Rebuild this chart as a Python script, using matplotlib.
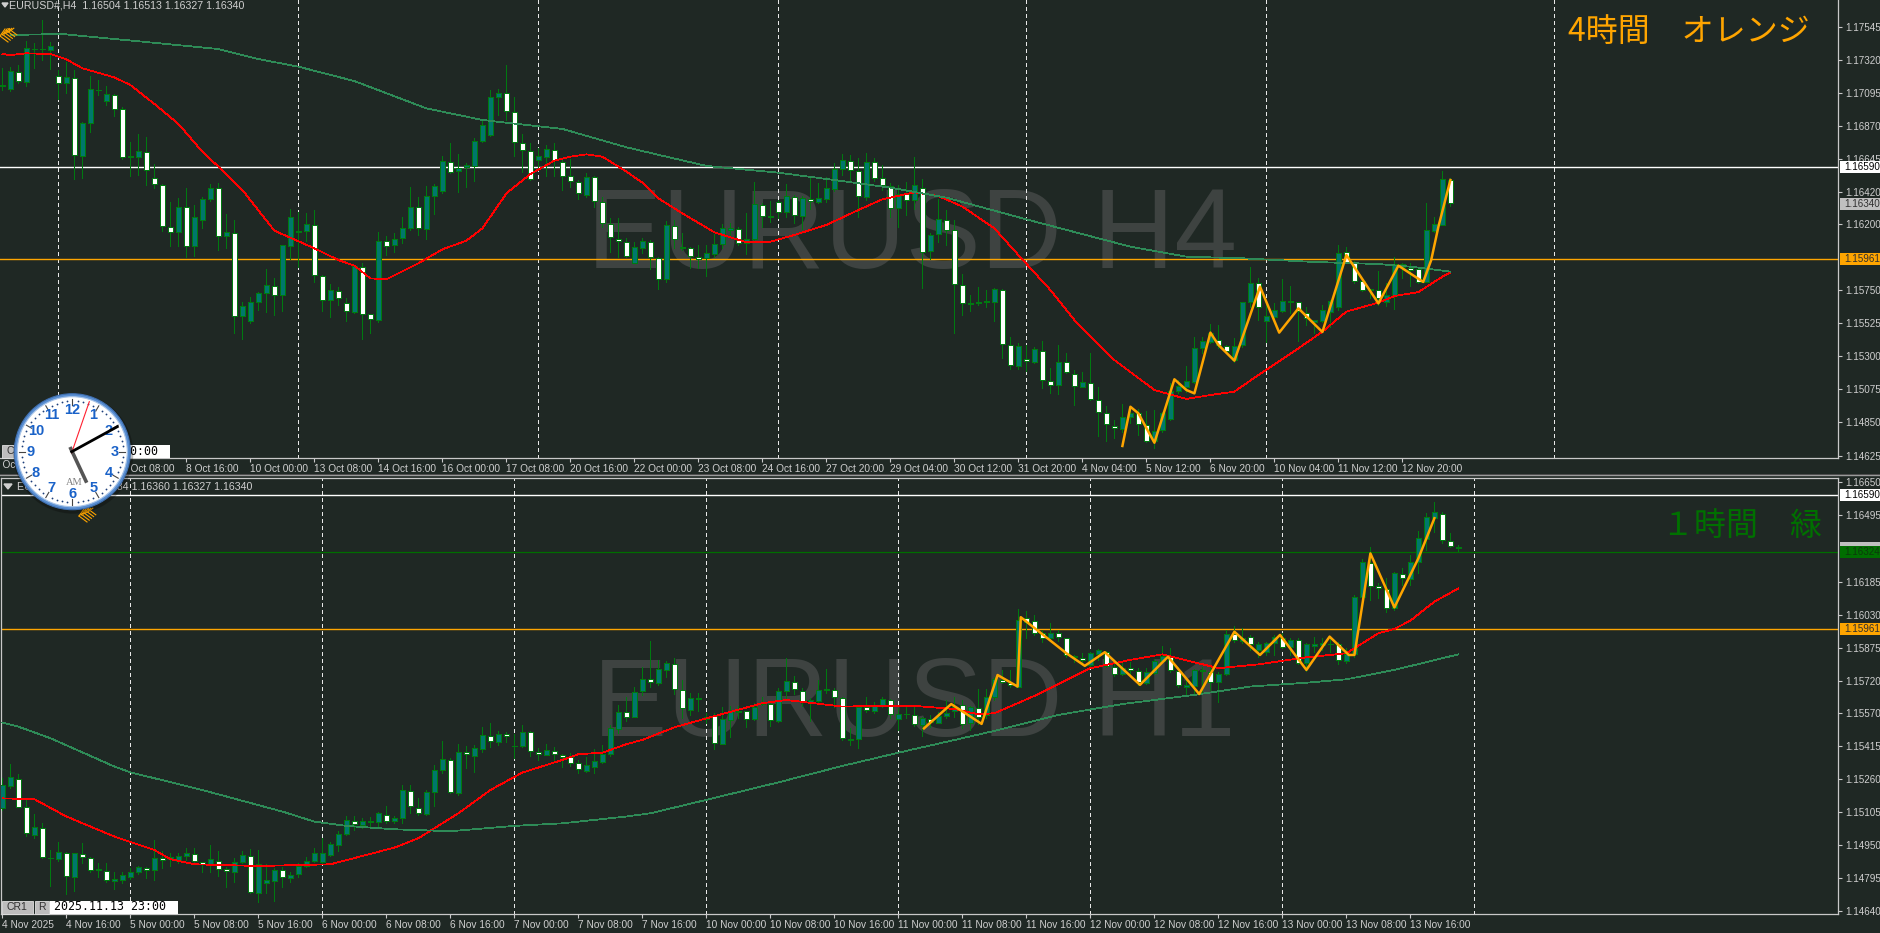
import numpy as np
import matplotlib
matplotlib.use("Agg")
import matplotlib.pyplot as plt
from matplotlib.patches import Circle, Rectangle, Polygon

W, H = 1881, 933
BG = "#1f2824"
WICK = "#007a10"
TEAL = "#00786c"
GRID = "#e8e8e8"
TXT = "#cfcfcf"
ORANGE = "#ffa500"
MA_RED = "#ff0000"
MA_GREEN = "#2e8b57"
LABEL_FONT = "Liberation Sans"
CJK = ["Noto Sans CJK JP", "DejaVu Sans"]

# ---- H4 candles, prices in points (1.16590 = 116590)
h4_high = [
    117262,117273,117284,117446,117432,117591,117439,117250,117307,117250,
    116898,117209,117182,117141,117087,116996,116762,116812,116792,116610,
    116474,116349,116376,116444,116331,116388,116474,116481,116270,116229,
    115673,115707,115741,115893,115832,116059,116301,116286,116274,116297,
    115854,115793,115770,115700,115915,115934,115582,116149,116120,116138,
    116252,116451,116388,116460,116474,116665,116751,116678,116615,116785,
    116910,117114,117121,117282,117069,116812,116751,116717,116740,116751,
    116642,116642,116501,116547,116528,116383,116240,116240,116104,116081,
    116104,116093,115979,116222,116229,116138,116047,116059,116059,116131,
    116202,116211,116179,116274,116485,116342,116358,116365,116474,116397,
    116392,116519,116478,116524,116615,116678,116671,116649,116683,116649,
    116603,116478,116467,116490,116656,116508,116138,116370,116297,116229,
    115861,115718,115770,115752,115763,115757,115434,115389,115378,115366,
    115407,115219,115378,115321,115207,115196,115325,115094,114962,114867,
    114976,114946,114939,114930,114935,114924,115117,115139,115235,115434,
    115434,115521,115514,115378,115423,115673,115906,115832,115673,115661,
    115825,115779,115673,115639,115548,115650,115684,116059,116047,115950,
    115832,115757,115884,115798,115979,115938,115934,115900,116342,116252,
    116562,116513,
]
h4_low = [
    117114,117110,117160,117141,117262,117318,117257,117051,117091,116508,
    116517,116828,117080,117012,116939,116647,116528,116535,116467,116444,
    116154,116054,116054,115979,115984,116177,116360,116025,116038,115462,
    115416,115525,115616,115605,115582,115611,115961,115911,116086,115809,
    115609,115570,115650,115541,115598,115416,115457,115536,115990,116013,
    116070,116161,116127,116097,116267,116415,116551,116422,116456,116497,
    116762,116803,116944,116910,116667,116558,116501,116569,116528,116528,
    116433,116451,116372,116388,116315,116183,116013,115979,115975,115934,
    116002,115893,115761,115809,116036,116025,115900,115900,115847,115979,
    116036,116115,116059,115997,116081,116183,116217,116240,116252,116206,
    116170,116301,116342,116349,116429,116533,116501,116252,116365,116494,
    116433,116252,116183,116263,116301,115768,115961,116081,116059,115462,
    115582,115609,115650,115639,115543,115291,115212,115212,115203,115253,
    115087,115048,115044,115189,114969,115094,115003,114758,114726,114742,
    114785,114844,114765,114719,114678,114787,114867,115048,115060,115117,
    115321,115389,115355,115321,115264,115366,115639,115548,115400,115548,
    115605,115593,115407,115514,115462,115536,115502,115616,115934,115802,
    115745,115695,115650,115643,115625,115836,115779,115798,115807,116149,
    116192,116326,
]
h4_body_top = [
    117146,117241,117239,117398,117396,117396,117411,117212,117200,117198,
    116887,117119,117116,117085,117082,116982,116662,116696,116694,116517,
    116469,116183,116320,116320,116252,116370,116449,116449,116145,116142,
    115643,115668,115729,115784,115782,116056,116247,116152,116199,116197,
    115850,115750,115748,115666,115915,115911,115586,116088,116088,116097,
    116177,116320,116317,116394,116458,116628,116626,116585,116601,116765,
    116873,117064,117096,117096,116967,116755,116701,116665,116710,116706,
    116626,116531,116490,116524,116524,116354,116202,116099,116079,116043,
    116084,116081,115972,116192,116190,116045,116036,115977,116002,116063,
    116172,116177,116170,116097,116336,116333,116254,116349,116390,116388,
    116376,116372,116376,116444,116574,116635,116633,116565,116626,116626,
    116513,116460,116406,116406,116465,116449,116129,116233,116229,116161,
    115788,115664,115670,115677,115757,115754,115380,115373,115282,115348,
    115339,115132,115264,115262,115182,115123,115121,115000,114917,114826,
    114890,114912,114912,114835,114794,114912,115067,115098,115130,115355,
    115403,115462,115414,115373,115373,115668,115797,115802,115575,115614,
    115675,115677,115673,115598,115546,115614,115679,116002,116009,115945,
    115813,115759,115754,115718,115927,115927,115904,115893,116161,116199,
    116506,116503,
]
h4_body_bottom = [
    117141,117123,117173,117171,117391,117391,117389,117162,117160,116669,
    116667,116887,117112,117041,116985,116656,116658,116660,116567,116474,
    116186,116145,116145,116052,116049,116231,116370,116120,116118,115575,
    115575,115543,115668,115729,115718,115716,116054,116147,116156,115852,
    115682,115682,115698,115609,115605,115589,115555,115550,116052,116061,
    116104,116177,116174,116170,116394,116426,116556,116560,116592,116599,
    116765,116810,117064,116969,116760,116703,116506,116640,116660,116635,
    116528,116494,116410,116401,116356,116211,116115,116086,115984,115938,
    116040,115975,115825,115825,116099,116036,115981,115963,115968,116000,
    116063,116158,116072,116070,116097,116254,116249,116281,116283,116263,
    116258,116356,116354,116374,116442,116574,116569,116390,116388,116513,
    116465,116308,116308,116363,116363,116011,116015,116131,116161,115791,
    115661,115659,115666,115673,115673,115384,115241,115232,115269,115264,
    115137,115105,115103,115194,115096,115094,115010,114919,114840,114812,
    114803,114890,114840,114726,114726,114799,114871,115067,115094,115128,
    115355,115400,115375,115337,115275,115375,115673,115639,115543,115571,
    115611,115673,115611,115559,115536,115543,115605,115639,115945,115816,
    115750,115754,115695,115673,115711,115911,115891,115809,115809,116156,
    116197,116345,
]
h4_bull = (
    "1101111010" "1111001100" "0010111010" "1111011110" "0100100101"
    "1101110111" "1110000110" "0001000001" "1001000011" "1101100010"
    "1011110010" "0010101100" "0000100101" "0010010000" "1100111111"
    "1100111011" "1100111100" "0001110011" "10"
)

# ---- H1 candles
h1_high = [
    115263,115329,115283,115162,115094,115052,114927,114963,114918,114915,
    114959,114896,114868,114868,114826,114826,114841,114852,114849,114974,
    114920,114915,114915,114935,114935,114873,114951,114920,114849,114888,
    114924,114930,114927,114863,114841,114849,114826,114865,114896,114935,
    114982,114966,115016,115087,115087,115076,115080,115107,115133,115084,
    115232,115232,115169,115208,115326,115440,115357,115424,115415,115419,
    115502,115521,115487,115482,115471,115513,115485,115404,115424,115412,
    115379,115380,115349,115361,115399,115419,115513,115607,115646,115693,
    115786,115907,115818,115815,115825,115724,115661,115661,115568,115571,
    115596,115602,115602,115580,115618,115646,115615,115685,115825,115743,
    115685,115638,115724,115775,115685,115646,115497,115607,115643,115622,
    115646,115636,115591,115599,115596,115552,115560,115576,115630,115646,
    115630,115602,115680,115680,115740,115771,115771,116055,116049,116029,
    115958,115989,115958,115922,115841,115852,115857,115868,115860,115805,
    115802,115810,115779,115779,115821,115883,115872,115786,115732,115774,
    115786,115786,115763,115958,115977,115966,115935,115904,115904,115935,
    115943,115919,115919,115896,115927,115919,115922,115900,115872,116122,
    116289,116346,116177,116200,116232,116247,116310,116424,116505,116556,
    116513,116414,116358,
]
h1_low = [
    115115,115219,115127,114994,114982,114888,114760,114877,114721,114737,
    114868,114826,114799,114777,114746,114774,114790,114815,114795,114787,
    114841,114852,114865,114880,114865,114826,114826,114806,114752,114779,
    114868,114724,114681,114724,114690,114755,114779,114799,114849,114873,
    114865,114899,114924,114998,115021,115029,115037,115029,115052,115055,
    115052,115102,115091,115091,115133,115287,115193,115185,115310,115294,
    115388,115412,115419,115435,115360,115408,115369,115349,115372,115349,
    115318,115321,115290,115294,115290,115337,115368,115474,115533,115549,
    115654,115693,115701,115736,115658,115544,115560,115580,115521,115402,
    115424,115458,115544,115505,115536,115607,115508,115527,115630,115658,
    115602,115533,115618,115665,115596,115443,115419,115407,115576,115571,
    115596,115544,115490,115544,115508,115463,115505,115521,115544,115552,
    115497,115490,115518,115544,115630,115708,115693,115690,115919,115935,
    115900,115911,115908,115833,115810,115794,115786,115818,115783,115743,
    115747,115740,115701,115705,115752,115810,115763,115693,115649,115654,
    115669,115677,115622,115747,115904,115896,115865,115833,115841,115841,
    115872,115841,115799,115766,115857,115865,115857,115797,115805,115833,
    116091,116099,116107,116044,116052,116169,116169,116227,116333,116419,
    116364,116346,116330,
]
h1_body_top = [
    115232,115268,115262,115130,115034,115032,114891,114916,114915,114912,
    114910,114891,114837,114830,114793,114809,114823,114846,114844,114888,
    114891,114893,114901,114912,114910,114871,114884,114877,114840,114873,
    114902,114901,114863,114785,114834,114835,114809,114854,114877,114912,
    114912,114954,115001,115066,115065,115063,115062,115099,115093,115076,
    115207,115205,115126,115198,115301,115352,115351,115388,115387,115404,
    115465,115463,115469,115472,115416,115480,115482,115387,115394,115393,
    115374,115361,115337,115324,115343,115377,115499,115576,115574,115669,
    115727,115727,115774,115802,115801,115675,115638,115640,115551,115555,
    115541,115577,115580,115577,115599,115616,115613,115671,115719,115716,
    115674,115630,115675,115680,115675,115640,115447,115599,115597,115602,
    115633,115632,115565,115565,115560,115544,115541,115555,115571,115599,
    115607,115596,115594,115643,115727,115724,115708,116005,116013,116002,
    115946,115943,115946,115919,115836,115829,115849,115865,115855,115786,
    115779,115780,115768,115760,115815,115836,115833,115768,115701,115771,
    115771,115763,115752,115938,115938,115922,115927,115891,115896,115927,
    115919,115911,115913,115893,115891,115896,115894,115893,115846,116113,
    116275,116274,116163,116152,116224,116222,116275,116388,116486,116510,
    116503,116377,116349,
]
h1_body_bottom = [
    115123,115229,115130,115005,114998,114893,114888,114885,114804,114799,
    114893,114834,114834,114785,114784,114787,114802,114826,114832,114832,
    114879,114884,114877,114901,114876,114860,114862,114838,114829,114826,
    114871,114729,114727,114770,114784,114801,114796,114813,114854,114877,
    114873,114905,114952,115001,115048,115043,115059,115059,115063,115063,
    115079,115132,115099,115098,115198,115302,115198,115196,115376,115369,
    115402,115437,115435,115460,115413,115415,115391,115376,115374,115376,
    115363,115333,115305,115299,115318,115341,115376,115493,115552,115552,
    115672,115713,115711,115771,115682,115591,115583,115636,115540,115427,
    115426,115538,115574,115541,115543,115613,115536,115533,115671,115682,
    115624,115622,115627,115677,115644,115451,115444,115446,115583,115577,
    115602,115563,115540,115562,115516,115513,115529,115524,115557,115577,
    115518,115521,115552,115560,115643,115715,115699,115693,115997,115946,
    115919,115919,115924,115841,115830,115818,115794,115846,115790,115752,
    115750,115771,115715,115711,115755,115815,115771,115701,115693,115696,
    115766,115716,115715,115750,115911,115908,115891,115865,115857,115896,
    115880,115880,115805,115802,115885,115888,115891,115816,115815,115846,
    116111,116164,116153,116061,116060,116200,116199,116275,116385,116485,
    116378,116350,116341,
]
h1_bull = (
    "1100101101" "0010111101" "0111001001" "1011101111" "1111011101"
    "1001110101" "1010110010" "0001111101" "1011001110" "1110110110"
    "0111001101" "1011010111" "0101100100" "0100001100" "1001110011"
    "1011010111" "0101111011" "1000101111" "000"
)

# ---- moving averages, sampled by bar index
h4_red_x = [0,1,3,6,8,10,14,16,19,22,25,27,30,34,39,42,44,46,48,52,55,58,60,63,66,69,71,73,75,78,
            80,82,85,89,93,96,99,103,107,110,114,117,120,124,127,131,134,139,144,148,151,154,157,
            162,165,168,172,174,177,180,181]
h4_red_y = [117359,117352,117364,117359,117323,117262,117200,117148,117019,116883,116694,116592,116433,
            116156,116036,115956,115918,115831,115825,115934,116029,116088,116172,116410,116542,116633,
            116660,116676,116660,116558,116483,116376,116274,116145,116077,116081,116127,116195,116297,
            116370,116417,116392,116320,116172,115990,115752,115548,115275,115071,115010,115037,115060,
            115173,115355,115468,115605,115666,115711,115738,115843,115870]
h4_green_x = [1,5,8,10,17,27,32,37,44,53,60,66,70,78,83,88,97,104,111,118,128,141,148,155,164,172,176,181]
h4_green_y = [117489,117493,117493,117482,117446,117393,117325,117273,117175,116989,116910,116873,116849,
              116724,116660,116597,116551,116501,116449,116381,116233,116047,115979,115968,115943,115929,
              115911,115877]
h1_red_x = [0,4,8,14,19,21,24,32,41,49,52,57,61,65,70,72,75,78,80,84,88,95,98,105,109,114,119,122,124,
            129,136,141,145,152,157,163,168,172,174,176,179,182]
h1_red_y = [115169,115165,115084,114990,114927,114884,114860,114852,114860,114938,114982,115099,115208,
            115290,115349,115376,115383,115423,115443,115502,115544,115615,115630,115599,115602,115602,
            115588,115563,115568,115649,115779,115818,115844,115779,115797,115830,115849,115943,115963,
            116002,116091,116153]
h1_green_x = [0,2,6,14,16,25,35,39,43,49,56,64,70,78,81,88,97,105,112,124,132,140,149,156,163,168,174,182]
h1_green_y = [115524,115505,115451,115318,115291,115208,115107,115060,115040,115024,115015,115040,115052,
              115084,115099,115162,115244,115321,115383,115485,115560,115611,115654,115693,115711,115727,
              115771,115844]

# ---- orange zigzags
h4_zig_x = [140,141,142,144,146.5,148,149,151,152,154,157.2,159.6,162,165,168,172,174.5,177.6,178.6,179.5,181]
h4_zig_y = [114690,114957,114912,114712,115144,115071,115048,115462,115378,115271,115775,115462,115627,
            115466,115990,115661,115918,115807,115956,116183,116501]
h1_zig_x = [115.2,118.6,122.4,124.4,126.9,127.3,133,135.3,137.8,142.2,145.7,149.6,154,157.2,159.7,163,165.9,
            168.3,169,171,174,177,179]
h1_zig_y = [115497,115611,115518,115747,115693,116018,115849,115790,115854,115701,115833,115658,115950,
            115841,115935,115771,115927,115841,115841,116317,116064,116294,116482]

# ---- axis text
h4_ticks = [1.17545,1.17320,1.17095,1.16870,1.16645,1.16420,1.16200,1.15750,1.15525,1.15300,1.15075,1.14850,1.14625]
h1_ticks = [1.16650,1.16495,1.16185,1.16030,1.15875,1.15720,1.15570,1.15415,1.15260,1.15105,1.14950,1.14795,1.14640]
h4_time_idx = list(range(7, 176, 8))
h4_time_lab = ["6 Oct 00:00","7 Oct 08:00","8 Oct 16:00","10 Oct 00:00","13 Oct 08:00","14 Oct 16:00",
               "16 Oct 00:00","17 Oct 08:00","20 Oct 16:00","22 Oct 00:00","23 Oct 08:00","24 Oct 16:00","27 Oct 20:00",
               "29 Oct 04:00","30 Oct 12:00","31 Oct 20:00","4 Nov 04:00","5 Nov 12:00","6 Nov 20:00","10 Nov 04:00",
               "11 Nov 12:00","12 Nov 20:00"]
h1_time_idx = list(range(0, 177, 8))
h1_time_lab = ["4 Nov 2025","4 Nov 16:00","5 Nov 00:00","5 Nov 08:00","5 Nov 16:00","6 Nov 00:00","6 Nov 08:00",
               "6 Nov 16:00","7 Nov 00:00","7 Nov 08:00","7 Nov 16:00","10 Nov 00:00","10 Nov 08:00","10 Nov 16:00",
               "11 Nov 00:00","11 Nov 08:00","11 Nov 16:00","12 Nov 00:00","12 Nov 08:00","12 Nov 16:00",
               "13 Nov 00:00","13 Nov 08:00","13 Nov 16:00"]
h4_period_sep = [7,37,67,97,128,158,194]
h1_period_sep = [16,40,64,88,112,136,160,184]


def make_panel(left, top, right, bottom, ymax, ymin):
    ax = fig.add_axes([left / W, 1 - bottom / H, (right - left) / W, (bottom - top) / H])
    ax.set_facecolor(BG)
    ax.yaxis.tick_right()
    for s in ax.spines.values():
        s.set_color("#c8c8c8")
        s.set_linewidth(0.9)
    ax.limits = ((left - 2.4) / 8, (right - 2.4) / 8, ymin, ymax)
    return ax


def draw_candles(ax, high, low, top, bottom, bull):
    x = np.arange(len(high))
    high, low = np.array(high) / 1e5, np.array(low) / 1e5
    top, bottom = np.array(top) / 1e5, np.array(bottom) / 1e5
    up = np.array([c == "1" for c in bull])
    ax.vlines(x, low, high, color=WICK, lw=0.72, zorder=3, antialiased=False)
    ax.bar(x[up], (top - bottom)[up], bottom=bottom[up], width=0.56, color=TEAL,
           edgecolor=WICK, linewidth=0.72, zorder=4, antialiased=False)
    ax.bar(x[~up], (top - bottom)[~up], bottom=bottom[~up], width=0.56, color="white",
           edgecolor=WICK, linewidth=0.72, zorder=4, antialiased=False)


def dress_axis(ax, ticks, t_idx, t_lab, seps):
    for s in seps:
        ax.axvline(s, color=GRID, lw=0.75, ls=(0, (3, 3)), zorder=2, antialiased=False)
    ax.set_yticks(ticks, [f"{t:.5f}" for t in ticks])
    ax.tick_params(axis="y", length=3, width=0.8, color="#c8c8c8", labelcolor=TXT, labelsize=7.1, pad=2)
    ax.set_xticks(t_idx, t_lab)
    ax.tick_params(axis="x", length=3, width=0.8, color="#c8c8c8", labelcolor=TXT, labelsize=7.3, pad=1)
    for lab in ax.get_xticklabels():
        lab.set_ha("left")
        lab.set_fontfamily(LABEL_FONT)
    for lab in ax.get_yticklabels():
        lab.set_fontfamily(LABEL_FONT)
    ax.set_xlim(ax.limits[0], ax.limits[1])
    ax.set_ylim(ax.limits[2], ax.limits[3])


def price_tag(ax, price, txt, fc, tc):
    # tag box runs from the axis to the window edge
    y = H - ax.transData.transform((0, price))[1]
    ov.add_patch(Rectangle((1839.5, y - 6), 41.5, 12, fc=fc, ec="none", zorder=5))
    ov.text(1844, y, txt, color=tc, fontsize=7.1, family=LABEL_FONT, va="center", ha="left", zorder=6)


plt.rcParams["font.family"] = LABEL_FONT
fig = plt.figure(figsize=(W / 100, H / 100), dpi=100, facecolor=BG)

# top panel
ax1 = make_panel(0, 0, 1838, 458, 1.17727, 1.14608)
ax1.spines["left"].set_visible(False)
ax1.spines["top"].set_visible(False)
draw_candles(ax1, h4_high, h4_low, h4_body_top, h4_body_bottom, h4_bull)
dress_axis(ax1, h4_ticks, h4_time_idx, h4_time_lab, h4_period_sep)
ax1.axhline(1.16590, color="white", lw=1.0, zorder=2.5)
ax1.axhline(1.15961, color=ORANGE, lw=1.0, zorder=2.5)
ax1.plot(h4_red_x, np.array(h4_red_y) / 1e5, color=MA_RED, lw=0.55, zorder=5, antialiased=False)
ax1.plot(h4_green_x, np.array(h4_green_y) / 1e5, color=MA_GREEN, lw=0.55, zorder=5, antialiased=False)
ax1.plot(h4_zig_x, np.array(h4_zig_y) / 1e5, color=ORANGE, lw=1.8, zorder=6)
ax1.set_xlim(ax1.limits[0], ax1.limits[1])
ax1.set_ylim(ax1.limits[2], ax1.limits[3])

# bottom panel
ax2 = make_panel(1.5, 478.3, 1838, 914, 1.16669, 1.14627)
draw_candles(ax2, h1_high, h1_low, h1_body_top, h1_body_bottom, h1_bull)
dress_axis(ax2, h1_ticks, h1_time_idx, h1_time_lab, h1_period_sep)
ax2.axhline(1.16590, color="white", lw=1.0, zorder=2.5)
ax2.axhline(1.15961, color=ORANGE, lw=1.0, zorder=2.5)
ax2.axhline(1.16324, color="#006e00", lw=0.9, zorder=2.5)
ax2.plot(h1_red_x, np.array(h1_red_y) / 1e5, color=MA_RED, lw=0.55, zorder=5, antialiased=False)
ax2.plot(h1_green_x, np.array(h1_green_y) / 1e5, color=MA_GREEN, lw=0.55, zorder=5, antialiased=False)
ax2.plot(h1_zig_x, np.array(h1_zig_y) / 1e5, color=ORANGE, lw=1.8, zorder=6)
ax2.set_xlim(ax2.limits[0], ax2.limits[1])
ax2.set_ylim(ax2.limits[2], ax2.limits[3])

# watermarks sit under the candles
ax1.text(587 / 1838, 1 - 268 / 458, "EURUSD H4", transform=ax1.transAxes, color="#3e4341", fontsize=81,
         family=LABEL_FONT, va="baseline", ha="left", zorder=1)
ax2.text((593 - 1.5) / 1836.5, 1 - (736 - 478.3) / 435.7, "EURUSD H1", transform=ax2.transAxes, color="#3e4341",
         fontsize=80, family=LABEL_FONT, va="baseline", ha="left", zorder=1)

# overlay in pixel units for terminal furniture
ov = fig.add_axes([0, 0, 1, 1], zorder=10)
ov.set_xlim(0, W)
ov.set_ylim(H, 0)
ov.axis("off")
ov.patch.set_alpha(0)

ov.plot([0, 1881], [475, 475], color="#9a9a9a", lw=1.0)
ov.plot([0, 1881], [473.5, 473.5], color="#505050", lw=0.7)

price_tag(ax1, 1.16590, "1.16590", "white", "black")
price_tag(ax1, 1.16340, "1.16340", "#c0c0c0", "#303030")
price_tag(ax1, 1.15961, "1.15961", ORANGE, "#303030")
price_tag(ax2, 1.16590, "1.16590", "white", "black")
price_tag(ax2, 1.16340, "", "#c0c0c0", "#303030")
price_tag(ax2, 1.16324, "1.16324", "#006e00", "#0c3a0c")
price_tag(ax2, 1.15961, "1.15961", ORANGE, "#303030")
ov.text(-6, 465.5, "2 Oct 16:00", color=TXT, fontsize=7.3, va="center", ha="left")

ov.text(1568, 32, "4時間　オレンジ", color=ORANGE, fontsize=23, family=CJK, va="center", ha="left")
ov.text(1662, 526, "１時間　緑", color="#007000", fontsize=23, family=CJK, va="center", ha="left")

ov.add_patch(Polygon([(2, 3), (8, 3), (5, 7)], color=TXT))
ov.add_patch(Polygon([(4, 484), (12, 484), (8, 489)], color=TXT))
ov.text(9, 5, "EURUSD#,H4  1.16504 1.16513 1.16327 1.16340", color=TXT, fontsize=7.7, va="center", ha="left")
ov.text(17, 486.7, "EURUSD#,H1  1.16334 1.16360 1.16327 1.16340", color=TXT, fontsize=7.7, va="center", ha="left")


def pencil(x0, y0):
    for k in range(5):
        ov.plot([x0 + k * 2.2, x0 + k * 2.2 + 8], [y0 + 9 - k * 1.8, y0 + 15 - k * 1.8], color=ORANGE, lw=0.8)
        ov.plot([x0 + k * 2.2, x0 + k * 2.2 + 5], [y0 + 9 - k * 1.0, y0 + 2 - k * 0.2], color=ORANGE, lw=0.8)


pencil(0, 27)
pencil(79, 507)


def terminal_box(top, x0, x1, txt_x, txt):
    ov.add_patch(Rectangle((2, top), 31, 13, fc="#bdbdbd", ec="#e0e0e0", lw=0.6))
    ov.text(17, top + 6.5, "CR1", fontsize=7.5, color="#303030", ha="center", va="center")
    ov.add_patch(Rectangle((35, top), 14, 13, fc="#bdbdbd", ec="#e0e0e0", lw=0.6))
    ov.text(42, top + 6.5, "R", fontsize=7.5, color="#303030", ha="center", va="center")
    ov.add_patch(Rectangle((x0, top), x1 - x0, 13, fc="white", ec="none"))
    ov.text(txt_x, top + 6.5, txt, family="DejaVu Sans Mono", fontsize=8.4, color="black", ha="left", va="center")


terminal_box(445, 42, 169.5, 46, "2025.11.13 20:00")
terminal_box(900.5, 50, 177.6, 54, "2025.11.13 23:00")

# desktop clock widget, on top of everything
cx, cy = 72.3, 451.7
ov.add_patch(Circle((cx + 1, cy + 2), 60, fc="#000000", alpha=0.25, ec="none", zorder=20))
ov.add_patch(Circle((cx, cy), 58, fc="#5a8fd2", ec="#3f6fb0", lw=0.8, zorder=21))
ov.add_patch(Circle((cx, cy), 55, fc="white", ec="#a8c4e8", lw=0.8, zorder=22))
for m in range(60):
    a = np.radians(m * 6)
    if m % 5 == 0:
        ov.plot([cx + 47 * np.sin(a), cx + 53 * np.sin(a)], [cy - 47 * np.cos(a), cy - 53 * np.cos(a)],
                color="#444444", lw=0.8, zorder=23)
    else:
        ov.plot([cx + 50.5 * np.sin(a)], [cy - 50.5 * np.cos(a)], "o", ms=1.3, color="#1d3f7a", mew=0, zorder=23)
for h in range(1, 13):
    a = np.radians(h * 30)
    ov.text(cx + 42 * np.sin(a), cy - 42 * np.cos(a), str(h), color="#1a62c8", fontsize=10.5, fontweight="bold",
            ha="center", va="center", zorder=24)
ov.text(cx + 2, cy + 31, "AM", family="Liberation Serif", color="#808080", fontsize=7.5, ha="center", va="center",
        zorder=24)
ov.plot([70, 86.7], [447, 482.7], color="#555555", lw=2.6, solid_capstyle="butt", zorder=25)
ov.plot([71.7, 89.3], [452.7, 401.7], color="#ff2030", lw=0.8, zorder=25)
ov.plot([71.7, 117.3], [451.7, 426.7], color="black", lw=2.0, zorder=25)
ov.set_xlim(0, W)
ov.set_ylim(H, 0)

fig.savefig("out.png", dpi=100, facecolor=BG)
